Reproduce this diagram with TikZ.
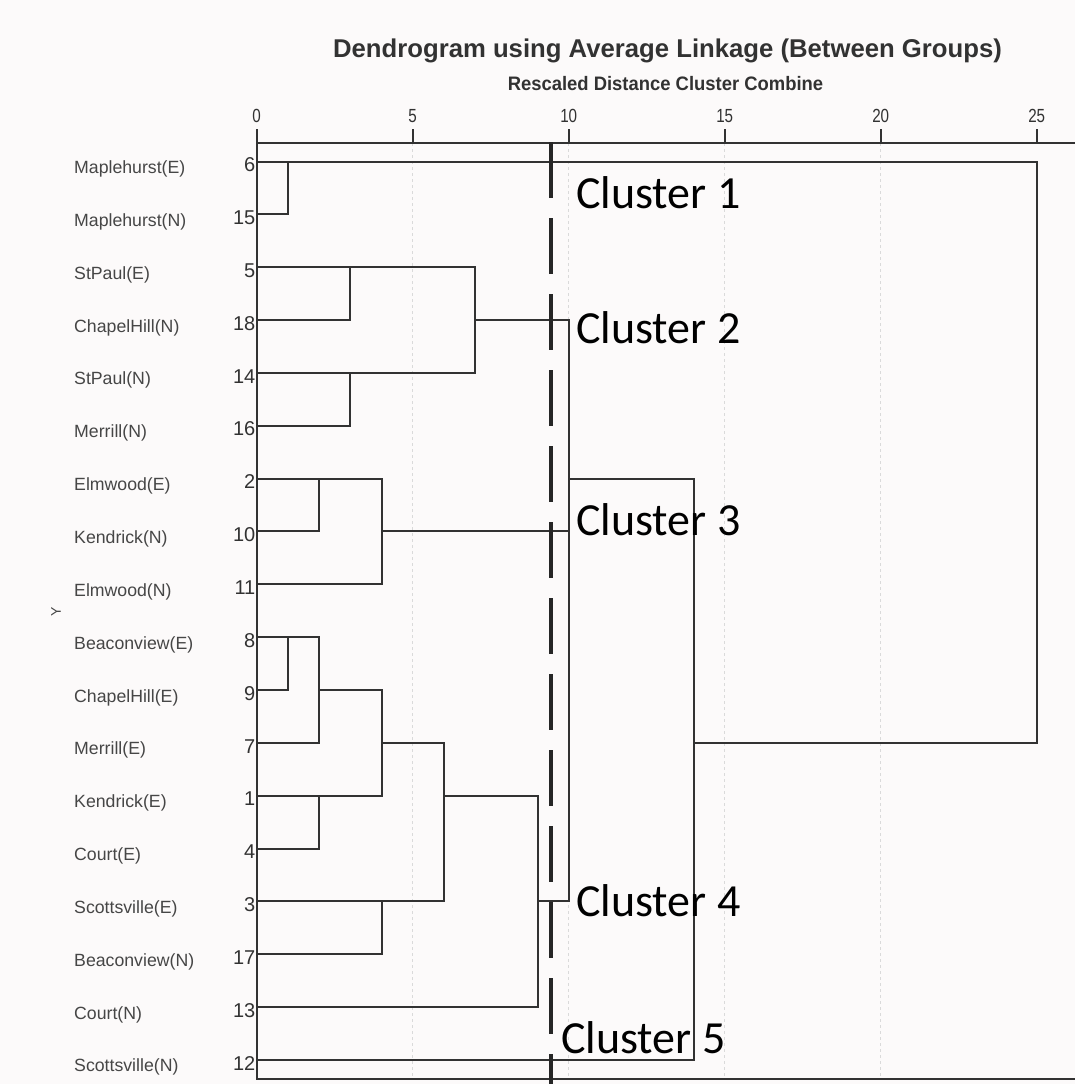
\documentclass[tikz,border=0pt]{standalone}
\usepackage{fontspec}
\usepackage{graphicx}
\setmainfont{Liberation Sans}
\newfontfamily\carl{Carlito}
\definecolor{bg}{RGB}{252,250,250}
\definecolor{ln}{RGB}{50,50,50}
\definecolor{txt}{RGB}{70,70,70}
\definecolor{gridc}{RGB}{218,218,218}
\tikzset{
  dline/.style={draw=ln, line width=2pt, line join=miter, line cap=rect},
  axisline/.style={draw=ln, line width=2pt},
  lbl/.style={font=\fontsize{17.7}{20}\selectfont, text=txt, inner sep=0pt, anchor=base west},
  numlbl/.style={font=\fontsize{20}{22}\selectfont, text=ln, inner sep=0pt, anchor=base east},
  clabel/.style={font=\carl\fontsize{46}{50}\selectfont, text=black, inner sep=0pt, anchor=base west},
  ticklbl/.style={font=\fontsize{19}{21}\selectfont, text=ln, inner sep=0pt, anchor=base},
  gridline/.style={draw=gridc, line width=1pt, dash pattern=on 3pt off 3pt},
  cutline/.style={draw=black!85, line width=4pt, dash pattern=on 56pt off 20pt},
}
\begin{document}
\begin{tikzpicture}[x=1pt,y=-1pt]
\useasboundingbox (0,0) rectangle (1075,1084);
\fill[bg] (0,0) rectangle (1075,1084);

% title
\node[font=\bfseries\fontsize{25.7}{28}\selectfont, text=ln, inner sep=0pt, anchor=base] (title) at (667.5,57) {Dendrogram using Average Linkage (Between Groups)};
\node[font=\bfseries\fontsize{19.5}{21}\selectfont, text=ln, inner sep=0pt, anchor=base] (subtitle) at (665.5,90.7) {\scalebox{0.945}[1]{Rescaled Distance Cluster Combine}};

% grid
\foreach \u in {5,10,15,20}
  \draw[gridline] ({256.7+31.2*\u},143) -- ({256.7+31.2*\u},1079);

% ticks
\foreach \u in {0,5,10,15,20,25} {
  \draw[axisline] ({256.7+31.2*\u},129) -- ({256.7+31.2*\u},143);
  \node[ticklbl] (tk\u) at ({256.7+31.2*\u},122) {\scalebox{0.8}[1]{\u}};
}

% axes
\coordinate (axTL) at (256.7,143);
\coordinate (axTR) at (1075,143);
\coordinate (axBL) at (256.7,1079);
\coordinate (axBR) at (1075,1079);
\draw[axisline] (axTR) -- (axTL) -- (256.7,129);
\draw[axisline] (axTL) -- (axBL) -- (axBR);

% Y label
\node[font=\fontsize{14}{16}\selectfont, text=txt, rotate=90, inner sep=0pt] (ylab) at (56,612) {Y};

% row labels and numbers
\foreach \i/\nm/\nu in {0/Maplehurst(E)/6, 1/Maplehurst(N)/15, 2/StPaul(E)/5, 3/ChapelHill(N)/18,
  4/StPaul(N)/14, 5/Merrill(N)/16, 6/Elmwood(E)/2, 7/Kendrick(N)/10, 8/Elmwood(N)/11,
  9/Beaconview(E)/8, 10/ChapelHill(E)/9, 11/Merrill(E)/7, 12/Kendrick(E)/1, 13/Court(E)/4,
  14/Scottsville(E)/3, 15/Beaconview(N)/17, 16/Court(N)/13, 17/Scottsville(N)/12} {
  \node[lbl] (lab\i) at (74,{161.5+52.85*\i+12}) {\nm};
  \node[numlbl] (num\i) at (255.5,{161.5+52.85*\i+10.2}) {\nu};
}

% dendrogram
\begin{scope}[shift={(256.7,161.5)}, x=31.2pt, y=-52.85pt]
  \foreach \i in {0,...,17} \coordinate (l\i) at (0,\i);
  \coordinate (a) at (1,0);
  \coordinate (root) at (25,0);
  \coordinate (b) at (3,2);
  \coordinate (c) at (3,4);
  \coordinate (d) at (7,3);
  \coordinate (p3) at (10,3);
  \coordinate (p7) at (10,7);
  \coordinate (p14) at (10,14);
  \coordinate (p) at (10,6);
  \coordinate (q) at (14,11);
  \coordinate (e) at (2,6);
  \coordinate (f) at (4,7);
  \coordinate (g) at (1,9);
  \coordinate (h) at (2,10);
  \coordinate (i) at (2,12);
  \coordinate (j) at (4,11);
  \coordinate (k) at (4,14);
  \coordinate (m) at (6,12);
  \coordinate (n) at (9,14);
  % cluster 1 and root
  \draw[dline] (l1) -| (a);
  \draw[dline] (l0) -- (root) |- (q);
  % cluster 2
  \draw[dline] (l3) -| (b);
  \draw[dline] (l5) -| (c);
  \draw[dline] (l2) -| (d) |- (l4);
  \draw[dline] (d) -- (p3) -- (p14);
  % cluster 3
  \draw[dline] (l7) -| (e);
  \draw[dline] (l6) -| (f) |- (l8);
  \draw[dline] (f) -- (p7);
  % join to 14
  \draw[dline] (p) -| (q) |- (l17);
  % cluster 4
  \draw[dline] (l10) -| (g);
  \draw[dline] (l9) -| (h) |- (l11);
  \draw[dline] (h) -| (j) |- (l12);
  \draw[dline] (l13) -| (i);
  \draw[dline] (l15) -| (k);
  \draw[dline] (j) -| (m) |- (l14);
  \draw[dline] (m) -| (n) |- (l16);
  \draw[dline] (n) -- (p14);
\end{scope}

% cut line
\coordinate (cutT) at (551,142);
\coordinate (cutB) at (551,1084);
\draw[cutline] (cutT) -- (cutB);

% cluster labels
\node[clabel] (c1) at (576,208.3) {Cluster 1};
\node[clabel] (c2) at (576,343.3) {Cluster 2};
\node[clabel] (c3) at (576,535) {Cluster 3};
\node[clabel] (c4) at (576,916.7) {Cluster 4};
\node[clabel] (c5) at (561,1053) {Cluster 5};
\end{tikzpicture}
\end{document}
